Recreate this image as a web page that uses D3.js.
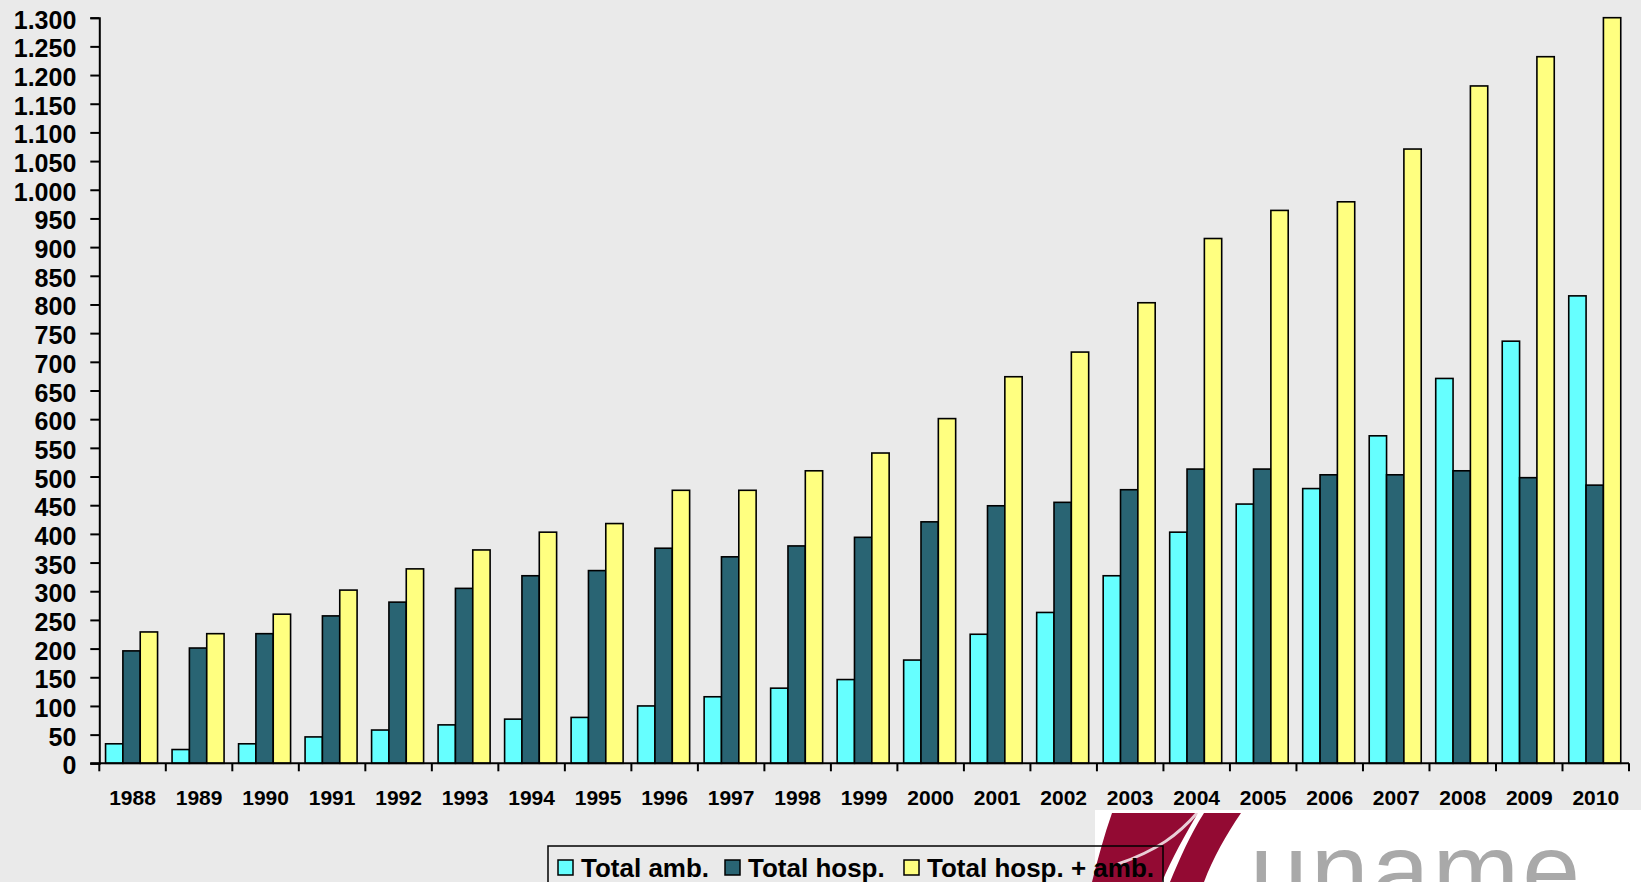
<!DOCTYPE html>
<html>
<head>
<meta charset="utf-8">
<script src="https://cdn.jsdelivr.net/npm/d3@7"></script>
<style>
  html, body { margin: 0; padding: 0; background: #EAEAEA; }
  svg { display: block; }
  text { font-family: "Liberation Sans", Arial, sans-serif; }
</style>
</head>
<body>
<svg id="chart" width="1641" height="882"></svg>
<script>
// ---- Data ----
const years = ["1988","1989","1990","1991","1992","1993","1994","1995","1996","1997","1998","1999",
               "2000","2001","2002","2003","2004","2005","2006","2007","2008","2009","2010"];
const totalAmb = [34, 24, 34, 46, 58, 67, 77, 80, 100, 116, 131, 146,
                  180, 225, 263, 327, 403, 452, 479, 571, 671, 736, 815];
const totalHosp = [196, 201, 226, 257, 281, 305, 327, 336, 375, 360, 379, 394,
                   421, 449, 455, 477, 513, 513, 503, 503, 510, 498, 485];
const totalHospAmb = [229, 226, 260, 302, 339, 372, 403, 418, 476, 476, 510, 541,
                      601, 674, 717, 803, 915, 964, 979, 1071, 1181, 1232, 1300];
const seriesNames = ["Total amb.", "Total hosp.", "Total hosp. + amb."];
const seriesColors = ["#66FFFF", "#296473", "#FFFF80"];
const yTicks = [0,50,100,150,200,250,300,350,400,450,500,550,600,650,700,750,800,850,900,950,
                1000,1050,1100,1150,1200,1250,1300];
const logoText = "uname";

const series = [totalAmb, totalHosp, totalHospAmb];

const svg = d3.select("#chart");
const W = 1641, H = 882;

const plot = { left: 99.3, right: 1629, top: 17.7, bottom: 763.3 };

const x0 = d3.scaleBand().domain(years).range([plot.left, plot.right]).padding(0);
const bw = x0.bandwidth();
const x1 = d3.scaleBand().domain(d3.range(series.length)).range([bw * 0.094, bw * 0.876]).padding(0);
const y = d3.scaleLinear().domain([0, 1300]).range([plot.bottom, plot.top]);

const loc = d3.formatLocale({ decimal: ",", thousands: ".", grouping: [3], currency: ["", ""] });
const fmt = loc.format(",");

// ---- Logo (behind everything at bottom right) ----
const logo = svg.append("g");
logo.append("rect").attr("x", 1095).attr("y", 810).attr("width", W - 1095).attr("height", H - 810).attr("fill", "#FFFFFF");
logo.append("path")
  .attr("d", "M1112,813 L1198,813 C1185,835 1172,858 1162,882 L1092,882 C1098,858 1104,836 1112,813 Z")
  .attr("fill", "#930A33");
logo.append("path")
  .attr("d", "M1204,813 L1241,813 C1226,835 1213,858 1204,882 L1170,882 C1180,858 1190,835 1204,813 Z")
  .attr("fill", "#930A33");
logo.append("path")
  .attr("d", "M1198,812 C1178,835 1158,850 1118,864")
  .attr("fill", "none").attr("stroke", "#FFFFFF").attr("stroke-width", 3).attr("opacity", 0.8);
logo.append("text")
  .attr("x", 1250).attr("y", 906)
  .attr("font-size", 104).attr("letter-spacing", 3)
  .attr("fill", "#A9A9A9")
  .text(logoText);

// ---- Bars ----
const groups = svg.append("g").selectAll("g").data(years).join("g")
  .attr("transform", d => `translate(${x0(d)},0)`);
groups.selectAll("rect").data((d, i) => series.map((s, k) => ({ k, v: s[i] }))).join("rect")
  .attr("x", d => x1(d.k))
  .attr("width", x1.bandwidth())
  .attr("y", d => y(d.v))
  .attr("height", d => y(0) - y(d.v))
  .attr("fill", d => seriesColors[d.k])
  .attr("stroke", "#000")
  .attr("stroke-width", 1.6);

// ---- Y axis ----
const yAxis = svg.append("g").attr("transform", `translate(${plot.left},0)`)
  .call(d3.axisLeft(y).tickValues(yTicks).tickFormat(fmt).tickSize(9).tickPadding(14));
yAxis.select(".domain").attr("stroke", "#000").attr("stroke-width", 2);
yAxis.selectAll(".tick line").attr("stroke", "#000").attr("stroke-width", 2);
yAxis.selectAll(".tick text")
  .attr("font-size", 25).attr("font-weight", "bold")
  .attr("font-family", "'Liberation Sans', Arial, sans-serif")
  .attr("fill", "#000").attr("dy", "0.42em");

// ---- X axis ----
const xAxis = svg.append("g");
xAxis.append("line")
  .attr("x1", plot.left - 9).attr("x2", plot.right)
  .attr("y1", y(0)).attr("y2", y(0))
  .attr("stroke", "#000").attr("stroke-width", 2);
const boundaries = years.map(d => x0(d)).concat([x0(years[years.length - 1]) + bw]);
xAxis.selectAll("line.tk").data(boundaries).join("line").attr("class", "tk")
  .attr("x1", d => d).attr("x2", d => d)
  .attr("y1", y(0)).attr("y2", y(0) + 8)
  .attr("stroke", "#000").attr("stroke-width", 2);
xAxis.selectAll("text").data(years).join("text")
  .attr("x", d => x0(d) + bw / 2)
  .attr("y", 805)
  .attr("text-anchor", "middle")
  .attr("font-size", 21).attr("font-weight", "bold")
  .attr("fill", "#000")
  .text(d => d);

// ---- Legend ----
const legend = svg.append("g");
legend.append("rect")
  .attr("x", 548).attr("y", 846).attr("width", 615).attr("height", 60)
  .attr("fill", "none").attr("stroke", "#000").attr("stroke-width", 1.5);
const legendX = [558, 725, 904];
seriesNames.forEach((name, k) => {
  legend.append("rect")
    .attr("x", legendX[k]).attr("y", 860).attr("width", 15).attr("height", 15)
    .attr("fill", seriesColors[k]).attr("stroke", "#000").attr("stroke-width", 1.5);
  legend.append("text")
    .attr("x", legendX[k] + 23).attr("y", 877)
    .attr("font-size", 26).attr("font-weight", "bold").attr("fill", "#000")
    .text(name);
});
</script>
</body>
</html>
